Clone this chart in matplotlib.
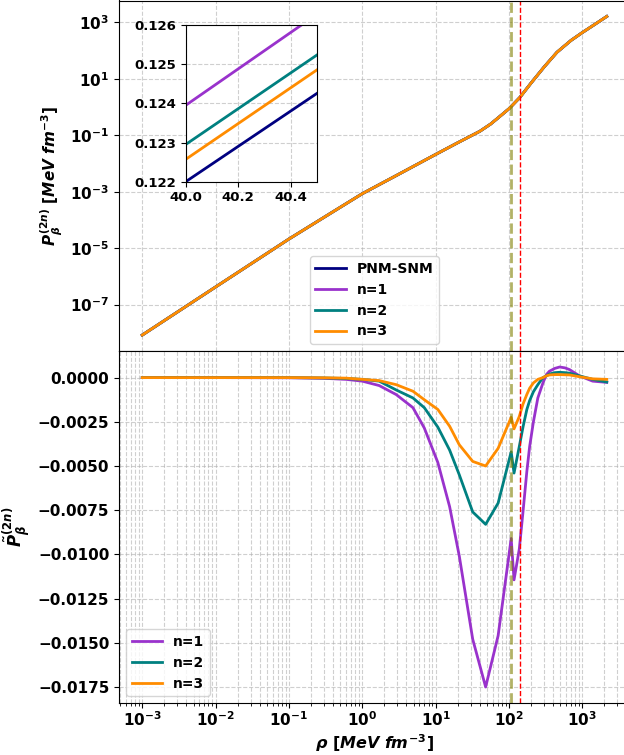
import numpy as np
import matplotlib
matplotlib.use("Agg")
import matplotlib.pyplot as plt
from matplotlib.ticker import NullLocator

plt.rcParams['font.family'] = ['DejaVu Sans']
plt.rcParams['font.weight'] = 'bold'
plt.rcParams['axes.labelweight'] = 'bold'
plt.rcParams['mathtext.fontset'] = 'custom'
plt.rcParams['mathtext.it'] = 'DejaVu Sans:italic:bold'
plt.rcParams['mathtext.rm'] = 'DejaVu Sans:bold'
plt.rcParams['mathtext.bf'] = 'DejaVu Sans:bold'

# ---------------- data ----------------
# top panel: pressure vs density (curves coincide on this scale)
rho_top = [1e-3, 1e-2, 0.1, 0.3, 1.0, 3.0, 10.0, 20.0, 40.0, 56.0, 70.0,
           100.0, 140.0, 200.0, 300.0, 450.0, 700.0, 1000.0, 1500.0, 2150.0]
P_top = [8.3e-9, 4.2e-7, 2.1e-5, 1.23e-4, 8.5e-4, 3.9e-3, 0.0209, 0.0543,
         0.138, 0.248, 0.40, 0.87, 2.16, 7.1, 26.0, 87.0, 229.0, 436.0,
         871.0, 1620.0]

series_labels = ['PNM-SNM', 'n=1', 'n=2', 'n=3']
series_colors = ['navy', 'darkorchid', 'teal', 'darkorange']

# inset (zoom around rho = 40)
inset_rho = [40.0, 40.5]
inset_pnm = [0.12200, 0.12425]
inset_n1 = [0.12395, 0.12627]
inset_n2 = [0.12295, 0.12523]
inset_n3 = [0.12257, 0.12485]

# bottom panel: reduced pressure
rho_bot = [1e-3, 1e-2, 0.1, 0.3, 0.6, 1.0, 1.7, 2.9, 4.9, 7.0, 10.7, 15.5,
           21.0, 32.0, 48.0, 71.0, 107.0, 117.0, 138.0, 155.0, 175.0, 191.0,
           215.0, 247.0, 290.0, 323.0, 355.0, 420.0, 490.0, 580.0, 670.0,
           910.0, 1380.0, 2150.0]
Pt_n1 = [0.0, 0.0, -0.00001, -0.00004, -0.0001, -0.0002, -0.00045, -0.00096,
         -0.0017, -0.00285, -0.0048, -0.0073, -0.0101, -0.0148, -0.0175,
         -0.0146, -0.0091, -0.01144, -0.0097, -0.0076, -0.0053, -0.0039,
         -0.0025, -0.00115, -0.0003, 0.00017, 0.00036, 0.00052, 0.0006,
         0.00055, 0.00045, 0.0001, -0.0002, -0.00027]
Pt_n2 = [0.0, 0.0, 0.0, -0.00002, -0.00005, -0.0001, -0.0002, -0.0007,
         -0.00115, -0.0017, -0.0028, -0.0041, -0.0055, -0.0076, -0.0083,
         -0.0071, -0.0042, -0.0054, -0.0039, -0.0028, -0.0018, -0.0013,
         -0.0008, -0.0004, 0.0, 0.0001, 0.0002, 0.00028, 0.0003, 0.00028,
         0.00025, 0.0001, -0.0001, -0.00025]
Pt_n3 = [0.0, 0.0, 0.0, -0.00001, -0.00003, -0.0001, -0.00017, -0.0004,
         -0.00077, -0.00125, -0.0018, -0.00275, -0.0038, -0.00474, -0.005,
         -0.004, -0.00225, -0.0029, -0.0022, -0.0015, -0.00095, -0.0006,
         -0.0003, -0.0001, 0.0, 0.0001, 0.00015, 0.00017, 0.00017, 0.00016,
         0.00015, 0.00005, -0.00007, -0.0001]

vline_olive = 107.0
vline_red = 140.0

# ---------------- figure ----------------
W, H = 624, 755
fig = plt.figure(figsize=(W / 100, H / 100), dpi=100)

left = 119 / W
width = 511 / W
ax1 = fig.add_axes([left, (H - 351) / H, width, 350.5 / H])
ax2 = fig.add_axes([left, (H - 703) / H, width, 352 / H], sharex=ax1)

lw = 2
for lab, col in zip(series_labels, series_colors):
    ax1.plot(rho_top, P_top, color=col, lw=lw, label=lab)
ax1.set_xscale('log')
ax1.set_yscale('log')
ax1.set_yticks([1e-7, 1e-5, 1e-3, 1e-1, 1e1, 1e3])
ax1.yaxis.set_minor_locator(NullLocator())
ax1.grid(True, which='major', ls='--', alpha=0.6)
ax1.axvline(vline_olive, color='olive', alpha=0.6, ls='--', lw=2)
ax1.axvline(vline_red, color='red', ls='--', lw=1)
ax1.set_ylabel(r'$P_\beta^{(2n)}\ [MeV\ fm^{-3}]$', fontsize=11)
ax1.tick_params(labelbottom=False, labelsize=11)
ax1.legend(loc='lower center', prop={'weight': 'bold', 'size': 10},
           handlelength=2.2)

# inset
axin = fig.add_axes([185.7 / W, (H - 181.7) / H, 131 / W, 156.7 / H])
for vals, col in zip([inset_pnm, inset_n1, inset_n2, inset_n3], series_colors):
    axin.plot(inset_rho, vals, color=col, lw=lw)
axin.set_xlim(40.0, 40.5)
axin.set_ylim(0.122, 0.126)
axin.set_xticks([40.0, 40.2, 40.4])
axin.set_yticks([0.122, 0.123, 0.124, 0.125, 0.126])
axin.grid(True, ls='--', alpha=0.6)
axin.tick_params(labelsize=9.5)

# bottom
for vals, lab, col in zip([Pt_n1, Pt_n2, Pt_n3], series_labels[1:], series_colors[1:]):
    ax2.plot(rho_bot, vals, color=col, lw=lw, label=lab)
ax2.axvline(vline_olive, color='olive', alpha=0.6, ls='--', lw=2)
ax2.axvline(vline_red, color='red', ls='--', lw=1)
ax2.set_xscale('log')
ax2.grid(True, which='both', ls='--', alpha=0.6)
ax2.set_yticks(np.arange(-0.0175, 0.0001, 0.0025))
ax2.set_ylabel(r'$\tilde{P}_\beta^{(2n)}$', fontsize=12)
ax2.set_xlabel(r'$\rho\ [MeV\ fm^{-3}]$', fontsize=11.5, labelpad=2)
ax2.tick_params(labelsize=11)
ax2.tick_params(axis='x', pad=2)
ax2.legend(loc='lower left', prop={'weight': 'bold', 'size': 10},
           handlelength=2.2)

fig.savefig('out.png', dpi=100)
